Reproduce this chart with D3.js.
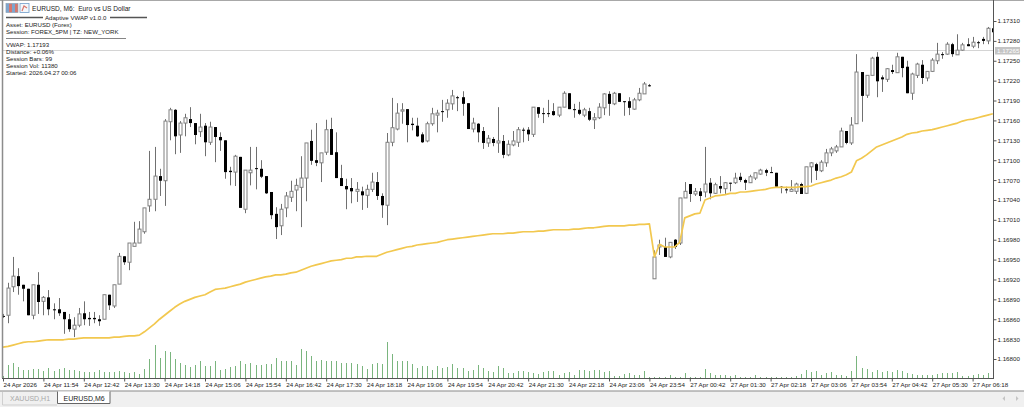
<!DOCTYPE html>
<html>
<head>
<meta charset="utf-8">
<title>EURUSD, M6</title>
<script src="https://cdn.jsdelivr.net/npm/d3@7/dist/d3.min.js"></script>
<style>
html,body{margin:0;padding:0;background:#fff;overflow:hidden}
svg{display:block}
text{font-family:"Liberation Sans",Arial,sans-serif}
</style>
</head>
<body>
<svg id="chart" width="1024" height="407"></svg>
<script>
// Prices are stored in points (0.00001) above this base level.
const priceBase = 1.168;
const point = 0.00001;

const opens = [
65,66,109,125,112,106,66,112,87,93,
75,75,71,60,45,51,69,62,62,60,
60,97,80,113,155,146,170,175,192,231,
241,276,269,358,376,338,356,362,356,343,
352,327,350,335,330,284,282,305,226,281,
288,287,276,252,219,201,228,244,255,259,
273,329,300,296,312,347,312,273,261,258,
253,253,247,256,267,246,232,327,347,374,
377,355,352,339,329,355,368,374,376,385,
395,395,386,347,355,344,326,332,326,329,
308,323,327,346,346,339,380,371,371,374,
368,380,401,377,376,368,374,361,364,379,
400,385,401,389,389,377,391,400,413,
121,169,169,154,180,175,243,264,249,253,252,
266,250,261,257,266,266,275,270,266,273,
279,285,282,281,260,256,253,253,264,250,
290,294,284,296,311,314,320,344,326,355,
433,398,428,456,425,422,436,432,456,441,
401,428,444,424,434,450,460,460,475,459,
466,475,472,478,483,480,499];

const highs = [
68,115,154,137,112,106,112,131,95,104,
84,92,71,68,63,77,87,71,71,66,
97,97,112,160,155,175,207,208,228,314,
320,287,362,379,377,359,370,380,356,370,
356,358,350,342,330,290,308,305,285,320,
320,300,276,252,229,234,252,269,272,306,
326,346,356,311,361,364,342,293,272,273,
267,260,263,281,282,250,341,394,386,386,
377,364,364,342,358,379,376,391,392,406,
397,404,386,364,356,350,338,335,380,338,
330,344,350,349,350,380,380,379,391,386,
380,404,401,385,388,379,379,371,386,401,
404,403,401,389,395,394,409,418,415,
164,180,183,176,181,243,267,264,258,258,320,
273,266,276,267,266,281,281,272,278,281,
287,287,290,281,261,260,270,266,266,290,
297,296,300,317,320,323,349,344,365,460,
433,428,456,463,428,439,444,462,456,450,
432,447,451,434,454,477,463,478,477,490,
477,484,486,480,486,501,521];

const lows = [
62,54,101,97,87,66,60,68,66,66,
60,65,38,41,33,48,51,50,54,50,
60,74,77,113,142,134,170,175,189,222,
223,246,231,330,309,311,336,350,324,335,
306,323,297,314,272,262,261,228,220,262,
256,273,249,211,181,187,214,237,223,199,
238,293,291,267,308,308,273,261,226,235,
237,225,228,252,240,213,202,321,345,355,
327,345,335,326,327,352,342,358,364,376,
374,367,347,342,327,317,320,321,311,303,
306,321,320,327,329,335,364,356,365,367,
365,380,377,364,368,365,359,347,362,368,
367,383,388,367,368,376,389,400,411,
121,157,154,152,166,172,243,237,246,238,244,
241,249,250,249,253,264,267,255,266,270,
278,276,281,260,250,250,252,249,249,249,
266,270,282,290,306,311,320,324,323,355,
358,394,428,395,403,418,430,432,425,401,
391,424,415,419,433,445,453,459,456,459,
465,472,469,469,475,475,492];

const closes = [
64,107,125,110,106,66,112,86,93,75,
74,69,60,45,51,68,60,60,60,57,
97,81,112,155,146,175,175,196,228,241,
276,269,359,376,336,356,364,356,338,350,
327,350,335,330,282,282,306,228,285,285,
287,275,250,217,199,226,246,253,262,273,
326,299,296,311,346,308,273,261,256,253,
256,247,256,267,246,232,327,349,371,376,
353,353,336,327,355,370,371,373,386,397,
394,385,347,356,342,326,333,326,329,308,
324,329,346,345,339,380,370,370,370,368,
380,401,377,376,370,376,361,364,380,400,
385,401,388,388,379,391,401,415,412,
154,172,154,176,169,243,253,249,253,246,264,
250,263,257,266,265,273,270,266,275,281,
285,281,281,260,259,255,256,264,249,290,
296,284,297,311,317,320,344,326,353,433,
397,428,454,419,422,438,433,456,439,401,
430,445,424,434,451,460,459,475,460,466,
474,472,478,477,480,499,493];

const vwap = [
18,19,21,23,25,26,26,27,28,29,
29,29,29,30,30,31,32,32,32,32,
32,32,33,33,34,35,35,36,41,47,
53,60,66,72,78,83,87,90,93,95,
97,101,105,106,107,109,111,113,116,118,
120,122,124,125,127,127,128,130,131,134,
137,140,142,144,146,148,149,150,152,152,
154,154,155,155,155,158,161,163,165,167,
169,170,172,173,174,175,176,178,180,181,
182,183,184,185,186,187,188,189,189,189,
190,190,191,192,192,192,193,193,194,195,
195,195,195,196,196,197,198,198,199,200,
201,201,201,201,202,202,203,203,204,
154,173,169,169,169,176,213,216,219,220,240,
243,246,247,248,250,250,252,252,253,254,
255,256,258,259,259,259,259,259,260,260,
261,264,266,268,270,273,275,278,282,299,
303,308,314,320,323,326,329,332,335,339,
341,342,344,345,346,348,350,352,354,356,
359,361,362,364,366,368,370];

const volumes = [
20,130,150,110,80,80,90,90,70,100,
70,90,100,80,80,70,60,60,60,80,
60,60,60,70,60,50,60,40,90,190,
330,200,270,260,190,150,130,110,130,170,
120,120,170,80,90,110,120,170,140,150,
130,130,140,140,200,170,170,170,130,290,
270,220,170,180,170,170,170,150,150,150,
140,120,90,140,150,140,360,240,170,170,
170,140,100,120,120,80,120,100,110,140,
100,100,70,80,130,100,70,60,120,100,
50,50,70,70,60,50,40,60,70,70,
30,50,60,30,80,80,70,80,80,60,
70,20,20,40,50,30,30,70,10,10,
10,10,30,10,10,50,10,10,10,90,
50,30,30,30,20,30,10,10,10,30,
10,10,10,10,10,10,10,20,40,80,
60,70,30,50,60,30,30,20,70,220,
100,90,60,80,60,70,60,80,70,50,
40,30,30,30,30,40,50,50,50,60,
20,20,30,40,30,50,40];

// One labelled tick every eight bars along the time axis.
const timeLabels = [
"24 Apr 2026","24 Apr 11:54","24 Apr 12:42","24 Apr 13:30","24 Apr 14:18",
"24 Apr 15:06","24 Apr 15:54","24 Apr 16:42","24 Apr 17:30","24 Apr 18:18",
"24 Apr 19:06","24 Apr 19:54","24 Apr 20:42","24 Apr 21:30","24 Apr 22:18",
"24 Apr 23:06","24 Apr 23:54","27 Apr 00:42","27 Apr 01:30","27 Apr 02:18",
"27 Apr 03:06","27 Apr 03:54","27 Apr 04:42","27 Apr 05:30","27 Apr 06:18"];
const barsPerTimeTick = 8;

const priceTicks = [1.16800,1.16830,1.16860,1.16890,1.16920,1.16950,1.16980,1.17010,
1.17040,1.17070,1.17100,1.17130,1.17160,1.17190,1.17220,1.17250,1.17280,1.17310];
const lastPrice = 1.17265;

const headerTitle = "EURUSD, M6:  Euro vs US Dollar";
const panelTitle = "Adaptive VWAP v1.0.0";
const panelTop = ["Asset: EURUSD (Forex)","Session: FOREX_5PM | TZ: NEW_YORK"];
const panelStats = ["VWAP: 1.17193","Distance: +0.06%","Session Bars: 99","Session Vol: 11380","Started: 2026.04.27 00:06"];
const tabNames = ["XAUUSD,H1","EURUSD,M6"];

const svg = d3.select("#chart");
const W = 1024, H = 407;
const plot = {left:3, right:993, top:1, bottom:378};

const toPrice = p => priceBase + p * point;
const x = d3.scaleLinear().domain([0, opens.length - 1]).range([3, 992.8]);
const y = d3.scaleLinear().domain([1.168, 1.1731]).range([359, 21]);
const vol = d3.scaleLinear().domain([0, 360]).range([plot.bottom, plot.bottom - 36]);
const px = i => Math.round(x(i)) + 0.5;

svg.append("rect").attr("width", W).attr("height", H).attr("fill", "#fff");
const defs = svg.append("defs");
defs.append("clipPath").attr("id", "plotClip").append("rect")
  .attr("x", plot.left).attr("y", plot.top)
  .attr("width", plot.right - plot.left).attr("height", plot.bottom - plot.top);

// Last-price line sits behind everything else.
svg.append("line").attr("x1", plot.left).attr("x2", plot.right)
  .attr("y1", Math.round(y(lastPrice)) - 0.5).attr("y2", Math.round(y(lastPrice)) - 0.5)
  .attr("stroke", "#d4d4d4");

const layer = svg.append("g").attr("clip-path", "url(#plotClip)");
const idx = d3.range(opens.length);

// Tick-volume bars
layer.append("g").selectAll("line").data(idx).join("line")
  .attr("x1", px).attr("x2", px)
  .attr("y1", vol(0)).attr("y2", i => vol(volumes[i]))
  .attr("stroke", "#7ab57e").attr("stroke-width", 1);

// Candles: wick first, then the body on top
const candles = layer.append("g").selectAll("g").data(idx).join("g");
candles.append("line")
  .attr("x1", px).attr("x2", px)
  .attr("y1", i => y(toPrice(highs[i]))).attr("y2", i => y(toPrice(lows[i])))
  .attr("stroke", "#707070").attr("stroke-width", 1);
candles.append("rect")
  .attr("x", i => px(i) - 1.5)
  .attr("width", 3)
  .attr("y", i => y(toPrice(Math.max(opens[i], closes[i]))))
  .attr("height", i => Math.max(1, y(toPrice(Math.min(opens[i], closes[i]))) - y(toPrice(Math.max(opens[i], closes[i])))))
  .attr("fill", i => closes[i] > opens[i] ? "#fff" : "#000")
  .attr("stroke", i => closes[i] > opens[i] ? "#808080" : "none")
  .attr("stroke-width", 1);

// Session VWAP
layer.append("path")
  .attr("d", d3.line().x(i => x(i)).y(i => y(toPrice(vwap[i])))(idx))
  .attr("fill", "none").attr("stroke", "#f2c84f").attr("stroke-width", 1.7)
  .attr("stroke-linejoin", "round");

// Price axis
const yAxis = d3.axisRight(y).tickValues(priceTicks).tickFormat(d3.format(".5f")).tickSize(3).tickPadding(1);
const yG = svg.append("g").attr("transform", `translate(${plot.right + 0.5},0)`).call(yAxis);
yG.select(".domain").remove();
yG.selectAll("line").attr("stroke", "#555");
yG.selectAll("text").attr("font-size", 6.2).attr("fill", "#222").attr("font-family", '"Liberation Sans",Arial,sans-serif');

// Time axis
const timeTicks = timeLabels.map((_, k) => k * barsPerTimeTick);
const xAxis = d3.axisBottom(x).tickValues(timeTicks).tickFormat((_, k) => timeLabels[k]).tickSize(3).tickPadding(1);
const xG = svg.append("g").attr("transform", `translate(0,${plot.bottom + 0.5})`).call(xAxis);
xG.select(".domain").remove();
xG.selectAll("line").attr("stroke", "#555");
xG.selectAll("text").attr("font-size", 6.2).attr("fill", "#222").attr("text-anchor", "start")
  .attr("font-family", '"Liberation Sans",Arial,sans-serif')
  .attr("dx", 0);

// Window frame and axis rules
const rule = (x1, y1, x2, y2, c, w) => svg.append("line").attr("x1", x1).attr("y1", y1).attr("x2", x2).attr("y2", y2)
  .attr("stroke", c).attr("stroke-width", w || 1);
rule(0, 0.5, W, 0.5, "#a8a8a8");
rule(2.5, 0, 2.5, plot.bottom, "#8c8c8c", 1.5);
rule(plot.right + 0.5, 0, plot.right + 0.5, plot.bottom + 1, "#555");
rule(2, plot.bottom + 0.5, plot.right + 1, plot.bottom + 0.5, "#555");

// Last-price tag on the axis
const tagY = Math.round(y(lastPrice));
svg.append("rect").attr("x", 995).attr("y", tagY - 4).attr("width", 25).attr("height", 7.5).attr("fill", "#c4c4c4");
svg.append("text").attr("x", 997).attr("y", tagY + 2).attr("font-size", 6.2).attr("fill", "#fff").text(d3.format(".5f")(lastPrice));

// Symbol header with its two small toolbar glyphs
const icon = svg.append("g");
[[6,"#7ea6cf"],[9,"#d9776c"],[12,"#7ea6cf"],[15,"#d9776c"]].forEach(([ix, c]) => {
  icon.append("rect").attr("x", ix).attr("y", 3.5).attr("width", 3).attr("height", 9).attr("fill", c);
});
icon.append("rect").attr("x", 6).attr("y", 3.5).attr("width", 12).attr("height", 9).attr("fill", "none").attr("stroke", "#8aa0b6").attr("stroke-width", 0.7);
icon.append("rect").attr("x", 20).attr("y", 3.5).attr("width", 9).attr("height", 9).attr("fill", "#f4f7fb").attr("stroke", "#7ea6cf").attr("stroke-width", 0.9);
icon.append("path").attr("d", "M22 11L24 6L27 8").attr("fill", "none").attr("stroke", "#d9776c").attr("stroke-width", 1.2);

svg.append("text").attr("x", 32).attr("y", 10.5).attr("font-size", 6.6).attr("fill", "#222").attr("xml:space", "preserve").text(headerTitle);

const panelText = (t, ty, tx) => svg.append("text").attr("x", tx || 6).attr("y", ty).attr("font-size", 6.1).attr("fill", "#222").text(t);
rule(6, 17.5, 43, 17.5, "#555", 1.3);
panelText(panelTitle, 19.5, 45);
rule(110, 17.5, 147, 17.5, "#555", 1.3);
panelText(panelTop[0], 26.5);
panelText(panelTop[1], 33.5);
rule(6, 38.5, 126, 38.5, "#666", 0.8);
panelStats.forEach((t, k) => panelText(t, 46.5 + k * 7));

// Tab strip along the bottom of the window
svg.append("rect").attr("x", 0).attr("y", 391).attr("width", W).attr("height", 16).attr("fill", "#f0f0f0");
rule(0, 391, W, 391, "#8a8a8a", 1.2);
svg.append("path").attr("d", "M2.5 392V405H57").attr("fill", "none").attr("stroke", "#cfcfcf");
svg.append("text").attr("x", 10).attr("y", 400.5).attr("font-size", 7).attr("fill", "#a9a9a9").text(tabNames[0]);
svg.append("path").attr("d", "M57.5 391.5V403.5H110V391.5").attr("fill", "#fff").attr("stroke", "#666");
svg.append("text").attr("x", 63.5).attr("y", 400.5).attr("font-size", 7).attr("fill", "#222").text(tabNames[1]);
svg.append("path").attr("d", "M1005 396L1002.5 398.5L1005 401Z").attr("fill", "#c4c4c4");
svg.append("path").attr("d", "M1016 396L1018.5 398.5L1016 401Z").attr("fill", "#c4c4c4");
</script>
</body>
</html>
